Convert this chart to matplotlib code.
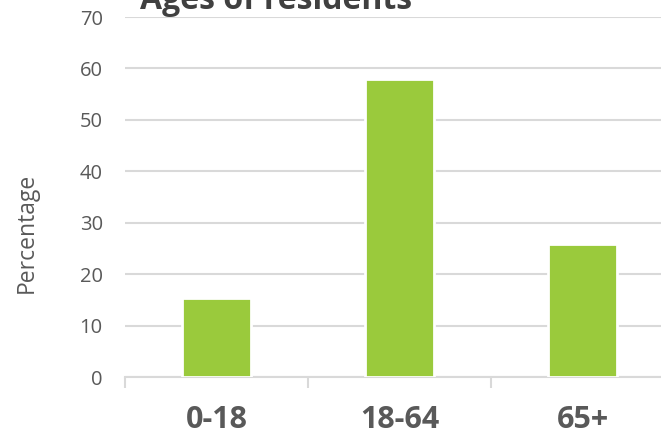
import matplotlib
matplotlib.use("Agg")
import matplotlib.pyplot as plt

categories = ["0-18", "18-64", "65+"]
values = [15.4, 58.0, 25.8]
yticks = [0, 10, 20, 30, 40, 50, 60, 70]

plt.rcParams['font.family'] = ['Open Sans', 'DejaVu Sans']

fig = plt.figure(figsize=(6.61, 4.40), dpi=100)
ax = fig.add_axes([125/661, 63/440, 549/661, 360/440])

grid_c = '#d9d9d9'
text_c = '#595959'

x = list(range(len(categories)))
ax.bar(x, values, width=0.38, color='#9aca3c', edgecolor='white', linewidth=2, zorder=3)

ax.set_xlim(-0.5, 2.5)
ax.set_ylim(0, 70)
ax.set_yticks(yticks)
ax.set_yticklabels([str(v) for v in yticks], fontsize=14.5, color=text_c)
ax.yaxis.grid(True, color=grid_c, linewidth=1.5, zorder=0)
ax.set_axisbelow(True)
ax.tick_params(axis='y', length=0, pad=16)

for s in ['top', 'right', 'left']:
    ax.spines[s].set_visible(False)
ax.spines['bottom'].set_color(grid_c)
ax.spines['bottom'].set_linewidth(1.5)

ax.set_xticks([-0.5, 0.5, 1.5, 2.5])
ax.set_xticklabels([])
ax.tick_params(axis='x', length=8, width=1.5, color=grid_c)
ax.set_xticks(x, minor=True)
ax.set_xticklabels(categories, minor=True, fontsize=22, fontweight='bold', color=text_c)
ax.tick_params(axis='x', which='minor', length=0, pad=20)

fig.text(27/661, 1 - 233/440, 'Percentage', rotation=90, ha='center', va='center',
         fontsize=16.5, color=text_c)
fig.text(276/661, 1 - 9/440, 'Ages of residents', ha='center', va='baseline',
         fontsize=23, fontweight='bold', color='#404040')

fig.savefig('out.png', dpi=100)
